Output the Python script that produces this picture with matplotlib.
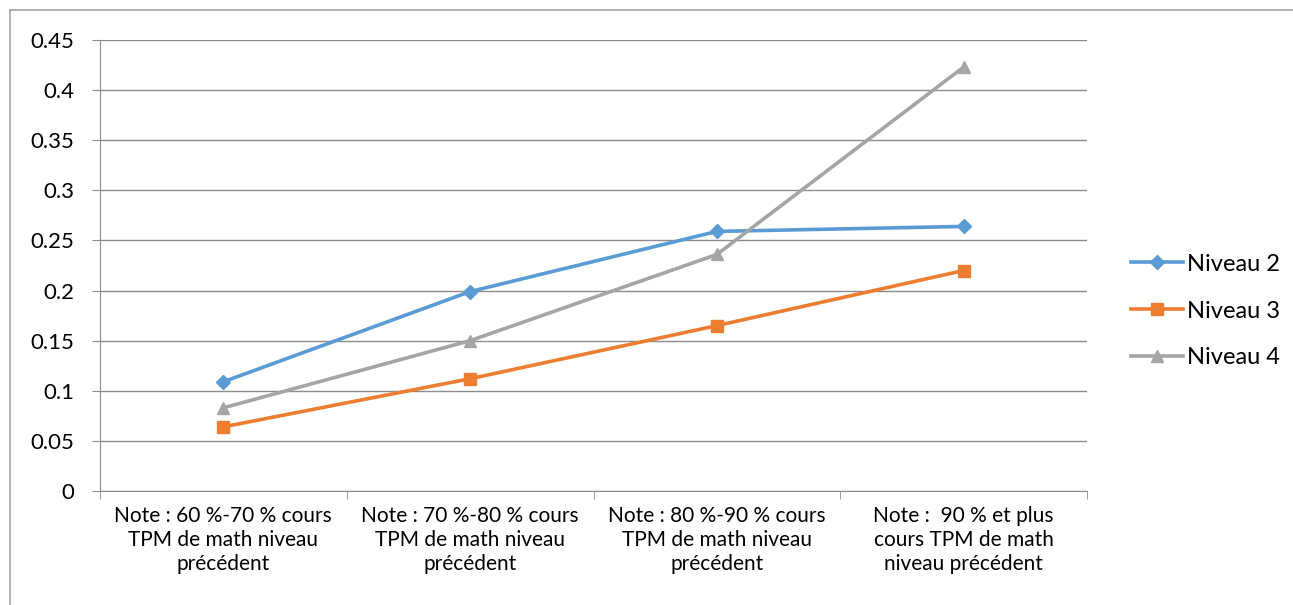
import numpy as np
import matplotlib.pyplot as plt
from matplotlib.lines import Line2D

# Data
categories = [
    "Note : 60 %-70 % cours\nTPM de math niveau\nprécédent",
    "Note : 70 %-80 % cours\nTPM de math niveau\nprécédent",
    "Note : 80 %-90 % cours\nTPM de math niveau\nprécédent",
    "Note :  90 % et plus\ncours TPM de math\nniveau précédent",
]
niveau2 = [0.109, 0.199, 0.259, 0.264]
niveau3 = [0.064, 0.112, 0.165, 0.220]
niveau4 = [0.083, 0.150, 0.236, 0.423]
series_names = ["Niveau 2", "Niveau 3", "Niveau 4"]
yticks = [0, 0.05, 0.1, 0.15, 0.2, 0.25, 0.3, 0.35, 0.4, 0.45]
ytick_labels = ["0", "0.05", "0.1", "0.15", "0.2", "0.25", "0.3", "0.35", "0.4", "0.45"]

plt.rcParams['font.family'] = ['Lato', 'DejaVu Sans']

fig = plt.figure(figsize=(12.93, 6.05), dpi=100)
ax = fig.add_axes([100 / 1293, 114 / 605, 987 / 1293, 451 / 605])

x = np.arange(len(categories))
ax.plot(x, niveau2, color='#5B9BD5', lw=2.6, marker='D', ms=7, label=series_names[0])
ax.plot(x, niveau3, color='#ED7D31', lw=2.6, marker='s', ms=8.5, label=series_names[1])
ax.plot(x, niveau4, color='#A5A5A5', lw=2.6, marker='^', ms=9, label=series_names[2])

ax.set_xlim(-0.5, len(categories) - 0.5)
ax.set_ylim(0, 0.45)
ax.set_yticks(yticks)
ax.set_yticklabels(ytick_labels, fontsize=16)
ax.yaxis.grid(True, color='#8C8C8C', lw=1)
ax.set_axisbelow(True)

# category labels centred, tick marks at the boundaries
ax.set_xticks(x)
ax.set_xticklabels(categories, fontsize=15, linespacing=1.25)
ax.tick_params(axis='x', length=0, pad=11)
ax.set_xticks(np.arange(-0.5, len(categories)), minor=True)
ax.tick_params(axis='x', which='minor', length=6, color='#8C8C8C', direction='out')
ax.tick_params(axis='y', length=5.5, color='#8C8C8C', direction='out', pad=13)

for s in ['top', 'right']:
    ax.spines[s].set_visible(False)
for s in ['left', 'bottom']:
    ax.spines[s].set_color('#8C8C8C')

handles = [Line2D([], [], color='#5B9BD5', lw=2.6, marker='D', ms=7),
           Line2D([], [], color='#ED7D31', lw=2.6, marker='s', ms=8.5),
           Line2D([], [], color='#A5A5A5', lw=2.6, marker='^', ms=9)]
fig.legend(handles, series_names, loc='center left', bbox_to_anchor=(1122 / 1293, 294 / 605),
           frameon=False, fontsize=17, handlelength=2.2, handletextpad=0.15,
           labelspacing=1.1, borderaxespad=0)

# chart area border (top and left visible)
fig.add_artist(Line2D([10 / 1293, 1], [1 - 10 / 605, 1 - 10 / 605], transform=fig.transFigure,
                      color='#A6A6A6', lw=1.2))
fig.add_artist(Line2D([10 / 1293, 10 / 1293], [0, 1 - 10 / 605], transform=fig.transFigure,
                      color='#A6A6A6', lw=1.2))

fig.savefig('out.png', dpi=100)
